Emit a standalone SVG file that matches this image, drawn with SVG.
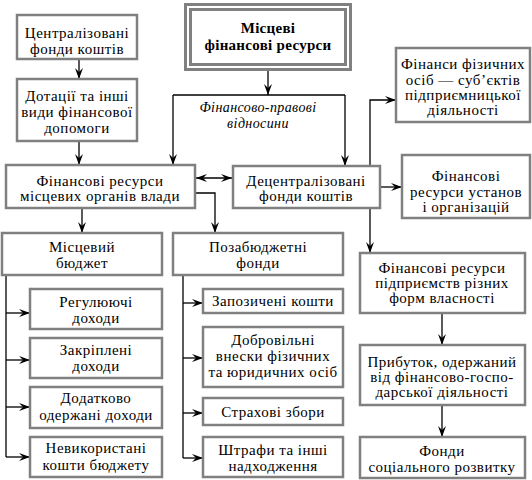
<svg xmlns="http://www.w3.org/2000/svg" width="532" height="480" viewBox="0 0 532 480">
<defs>
<marker id="ah" markerUnits="userSpaceOnUse" markerWidth="14" markerHeight="10" viewBox="-12 -5 13 10" refX="0" refY="0" orient="auto">
<path d="M0,0 L-11,-4 L-7,0 L-11,4 z" fill="#000"/>
</marker>
<marker id="ahs" markerUnits="userSpaceOnUse" markerWidth="14" markerHeight="10" viewBox="-12 -5 13 10" refX="0" refY="0" orient="auto-start-reverse">
<path d="M0,0 L-11,-4 L-7,0 L-11,4 z" fill="#000"/>
</marker>
</defs>
<rect width="532" height="480" fill="#fff"/>
<g id="connectors" fill="none" stroke="#000" stroke-width="1.3">
<path d="M79,59 V79" marker-end="url(#ah)"/>
<path d="M79,141 V165" marker-end="url(#ah)"/>
<path d="M268,70 V95" marker-end="url(#ah)"/>
<path d="M173,95 V165" marker-end="url(#ah)"/>
<path d="M345,95 V166" marker-end="url(#ah)"/>
<path d="M173,95 H345"/>
<path d="M196,178 H232" marker-start="url(#ahs)" marker-end="url(#ah)"/>
<path d="M195,193 H215 V233" marker-end="url(#ah)"/>
<path d="M82,208 V233" marker-end="url(#ah)"/>
<path d="M370,166 V100 H396" marker-end="url(#ah)"/>
<path d="M370,208 V253" marker-end="url(#ah)"/>
<path d="M380,187 H402" marker-end="url(#ah)"/>
<path d="M6,275 V457"/>
<path d="M6,313 H30" marker-end="url(#ah)"/>
<path d="M6,360 H30" marker-end="url(#ah)"/>
<path d="M6,407 H30" marker-end="url(#ah)"/>
<path d="M6,457 H30" marker-end="url(#ah)"/>
<path d="M183,275 V458"/>
<path d="M183,303 H203" marker-end="url(#ah)"/>
<path d="M183,358 H203" marker-end="url(#ah)"/>
<path d="M183,413 H203" marker-end="url(#ah)"/>
<path d="M183,458 H203" marker-end="url(#ah)"/>
<path d="M442,313 V345" marker-end="url(#ah)"/>
<path d="M442,405 V437" marker-end="url(#ah)"/>
</g>
<g id="main">
<rect x="185.5" y="4.5" width="165" height="65" fill="#fff" stroke="#808080" stroke-width="3"/>
<rect x="190.5" y="9.5" width="155" height="55" fill="none" stroke="#808080" stroke-width="3"/>
<text font-family="Liberation Serif" font-size="15" font-weight="bold" text-anchor="middle" letter-spacing="0.3" x="268" y="33">Місцеві</text>
<text font-family="Liberation Serif" font-size="15" font-weight="bold" text-anchor="middle" letter-spacing="0.3" x="268" y="50">фінансові ресурси</text>
</g>
<g id="label-relations">
<text font-family="Liberation Serif" font-size="14" font-style="italic" text-anchor="middle" letter-spacing="0.4" x="258" y="112">Фінансово-правові</text>
<text font-family="Liberation Serif" font-size="14" font-style="italic" text-anchor="middle" letter-spacing="0.4" x="258" y="128">відносини</text>
</g>
<g id="central-funds">
<rect x="17" y="15" width="120" height="44" fill="#fff" stroke="#808080" stroke-width="2.5"/>
<text font-family="Liberation Serif" font-size="15" text-anchor="middle" letter-spacing="0.5" x="77" y="38">Централізовані</text>
<text font-family="Liberation Serif" font-size="15" text-anchor="middle" letter-spacing="0.5" x="77" y="54">фонди коштів</text>
</g>
<g id="subsidies">
<rect x="17" y="79" width="120" height="62" fill="#fff" stroke="#808080" stroke-width="2.5"/>
<text font-family="Liberation Serif" font-size="15" text-anchor="middle" letter-spacing="0.5" x="77" y="101">Дотації та інші</text>
<text font-family="Liberation Serif" font-size="15" text-anchor="middle" letter-spacing="0.5" x="77" y="117">види фінансової</text>
<text font-family="Liberation Serif" font-size="15" text-anchor="middle" letter-spacing="0.5" x="77" y="133">допомоги</text>
</g>
<g id="individuals">
<rect x="396" y="48" width="134" height="74" fill="#fff" stroke="#808080" stroke-width="2.5"/>
<text font-family="Liberation Serif" font-size="15" text-anchor="middle" letter-spacing="0.5" x="463" y="69">Фінанси фізичних</text>
<text font-family="Liberation Serif" font-size="15" text-anchor="middle" letter-spacing="0.5" x="463" y="85">осіб — суб’єктів</text>
<text font-family="Liberation Serif" font-size="15" text-anchor="middle" letter-spacing="0.5" x="463" y="100">підприємницької</text>
<text font-family="Liberation Serif" font-size="15" text-anchor="middle" letter-spacing="0.5" x="463" y="115">діяльності</text>
</g>
<g id="local-gov">
<rect x="6" y="165" width="189" height="43" fill="#fff" stroke="#808080" stroke-width="2.5"/>
<text font-family="Liberation Serif" font-size="15" text-anchor="middle" letter-spacing="0.5" x="100" y="186">Фінансові ресурси</text>
<text font-family="Liberation Serif" font-size="15" text-anchor="middle" letter-spacing="0.5" x="100" y="201">місцевих органів влади</text>
</g>
<g id="decentral">
<rect x="233" y="166" width="147" height="42" fill="#fff" stroke="#808080" stroke-width="2.5"/>
<text font-family="Liberation Serif" font-size="15" text-anchor="middle" letter-spacing="0.5" x="306" y="186">Децентралізовані</text>
<text font-family="Liberation Serif" font-size="15" text-anchor="middle" letter-spacing="0.5" x="306" y="201">фонди коштів</text>
</g>
<g id="institutions">
<rect x="402" y="155" width="128" height="63" fill="#fff" stroke="#808080" stroke-width="2.5"/>
<text font-family="Liberation Serif" font-size="15" text-anchor="middle" letter-spacing="0.5" x="466" y="181">Фінансові</text>
<text font-family="Liberation Serif" font-size="15" text-anchor="middle" letter-spacing="0.5" x="466" y="197">ресурси установ</text>
<text font-family="Liberation Serif" font-size="15" text-anchor="middle" letter-spacing="0.5" x="466" y="212">і організацій</text>
</g>
<g id="local-budget">
<rect x="2" y="233" width="160" height="42" fill="#fff" stroke="#808080" stroke-width="2.5"/>
<text font-family="Liberation Serif" font-size="15" text-anchor="middle" letter-spacing="0.5" x="82" y="252">Місцевий</text>
<text font-family="Liberation Serif" font-size="15" text-anchor="middle" letter-spacing="0.5" x="82" y="268">бюджет</text>
</g>
<g id="extra-budget">
<rect x="173" y="233" width="170" height="42" fill="#fff" stroke="#808080" stroke-width="2.5"/>
<text font-family="Liberation Serif" font-size="15" text-anchor="middle" letter-spacing="0.5" x="258" y="252">Позабюджетні</text>
<text font-family="Liberation Serif" font-size="15" text-anchor="middle" letter-spacing="0.5" x="258" y="268">фонди</text>
</g>
<g id="enterprises">
<rect x="360" y="253" width="165" height="60" fill="#fff" stroke="#808080" stroke-width="2.5"/>
<text font-family="Liberation Serif" font-size="15" text-anchor="middle" letter-spacing="0.5" x="442" y="273">Фінансові ресурси</text>
<text font-family="Liberation Serif" font-size="15" text-anchor="middle" letter-spacing="0.5" x="442" y="288">підприємств різних</text>
<text font-family="Liberation Serif" font-size="15" text-anchor="middle" letter-spacing="0.5" x="442" y="303">форм власності</text>
</g>
<g id="regulating">
<rect x="30" y="289" width="132" height="40" fill="#fff" stroke="#808080" stroke-width="2.5"/>
<text font-family="Liberation Serif" font-size="15" text-anchor="middle" letter-spacing="0.5" x="96" y="307">Регулюючі</text>
<text font-family="Liberation Serif" font-size="15" text-anchor="middle" letter-spacing="0.5" x="96" y="323">доходи</text>
</g>
<g id="fixed">
<rect x="30" y="338" width="132" height="40" fill="#fff" stroke="#808080" stroke-width="2.5"/>
<text font-family="Liberation Serif" font-size="15" text-anchor="middle" letter-spacing="0.5" x="96" y="355">Закріплені</text>
<text font-family="Liberation Serif" font-size="15" text-anchor="middle" letter-spacing="0.5" x="96" y="371">доходи</text>
</g>
<g id="additional">
<rect x="30" y="387" width="132" height="41" fill="#fff" stroke="#808080" stroke-width="2.5"/>
<text font-family="Liberation Serif" font-size="15" text-anchor="middle" letter-spacing="0.5" x="96" y="403">Додатково</text>
<text font-family="Liberation Serif" font-size="15" text-anchor="middle" letter-spacing="0.5" x="96" y="420">одержані доходи</text>
</g>
<g id="unused">
<rect x="30" y="437" width="132" height="40" fill="#fff" stroke="#808080" stroke-width="2.5"/>
<text font-family="Liberation Serif" font-size="15" text-anchor="middle" letter-spacing="0.5" x="96" y="453">Невикористані</text>
<text font-family="Liberation Serif" font-size="15" text-anchor="middle" letter-spacing="0.5" x="96" y="470">кошти бюджету</text>
</g>
<g id="borrowed">
<rect x="203" y="289" width="140" height="24" fill="#fff" stroke="#808080" stroke-width="2.5"/>
<text font-family="Liberation Serif" font-size="15" text-anchor="middle" letter-spacing="0.5" x="273" y="306">Запозичені кошти</text>
</g>
<g id="voluntary">
<rect x="203" y="327" width="140" height="60" fill="#fff" stroke="#808080" stroke-width="2.5"/>
<text font-family="Liberation Serif" font-size="15" text-anchor="middle" letter-spacing="0.5" x="273" y="345">Добровільні</text>
<text font-family="Liberation Serif" font-size="15" text-anchor="middle" letter-spacing="0.5" x="273" y="361">внески фізичних</text>
<text font-family="Liberation Serif" font-size="15" text-anchor="middle" letter-spacing="0.5" x="273" y="377">та юридичних осіб</text>
</g>
<g id="insurance">
<rect x="203" y="398" width="140" height="27" fill="#fff" stroke="#808080" stroke-width="2.5"/>
<text font-family="Liberation Serif" font-size="15" text-anchor="middle" letter-spacing="0.5" x="273" y="417">Страхові збори</text>
</g>
<g id="fines">
<rect x="203" y="437" width="140" height="40" fill="#fff" stroke="#808080" stroke-width="2.5"/>
<text font-family="Liberation Serif" font-size="15" text-anchor="middle" letter-spacing="0.5" x="273" y="455">Штрафи та інші</text>
<text font-family="Liberation Serif" font-size="15" text-anchor="middle" letter-spacing="0.5" x="273" y="471">надходження</text>
</g>
<g id="profit">
<rect x="360" y="345" width="165" height="60" fill="#fff" stroke="#808080" stroke-width="2.5"/>
<text font-family="Liberation Serif" font-size="15" text-anchor="middle" letter-spacing="0.5" x="442" y="367">Прибуток, одержаний</text>
<text font-family="Liberation Serif" font-size="15" text-anchor="middle" letter-spacing="0.5" x="442" y="382">від фінансово-госпо-</text>
<text font-family="Liberation Serif" font-size="15" text-anchor="middle" letter-spacing="0.5" x="442" y="397">дарської діяльності</text>
</g>
<g id="social-funds">
<rect x="360" y="437" width="165" height="41" fill="#fff" stroke="#808080" stroke-width="2.5"/>
<text font-family="Liberation Serif" font-size="15" text-anchor="middle" letter-spacing="0.5" x="442" y="456">Фонди</text>
<text font-family="Liberation Serif" font-size="15" text-anchor="middle" letter-spacing="0.5" x="442" y="472">соціального розвитку</text>
</g>
</svg>
